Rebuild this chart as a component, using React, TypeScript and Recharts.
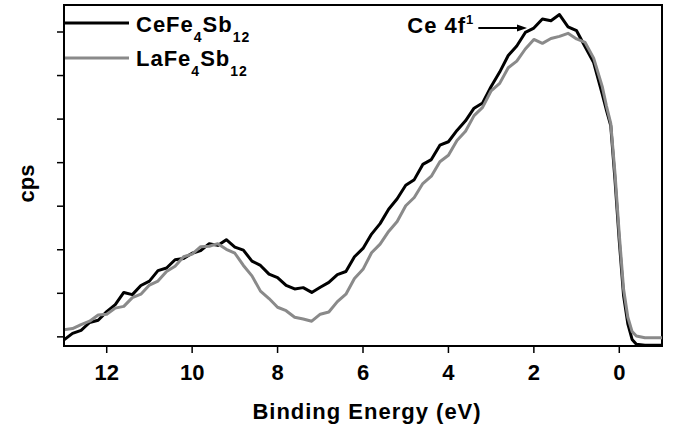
import React from "react";
import { LineChart, Line, XAxis, YAxis, ReferenceArea, ReferenceLine, Legend } from "recharts";

// binding energy (eV), high to low
const energies = [
  13, 12.8, 12.6, 12.4, 12.2, 12, 11.8, 11.6, 11.4, 11.2,
  11, 10.8, 10.6, 10.4, 10.2, 10, 9.8, 9.6, 9.4, 9.2,
  9, 8.8, 8.6, 8.4, 8.2, 8, 7.8, 7.6, 7.4, 7.2,
  7, 6.8, 6.6, 6.4, 6.2, 6, 5.8, 5.6, 5.4, 5.2,
  5, 4.8, 4.6, 4.4, 4.2, 4, 3.8, 3.6, 3.4, 3.2,
  3, 2.8, 2.6, 2.4, 2.2, 2, 1.8, 1.6, 1.4, 1.2,
  1, 0.8, 0.6, 0.4, 0.3, 0.2, 0.1, 0, -0.1, -0.2,
  -0.3, -0.4, -0.6, -0.8, -1,
];

const ceFe4Sb12 = [
  -0.07, 0.08, 0.15, 0.33, 0.38, 0.58, 0.74, 1.02, 0.97, 1.18,
  1.28, 1.52, 1.58, 1.77, 1.8, 1.92, 1.98, 2.14, 2.1, 2.23,
  2.06, 1.99, 1.74, 1.64, 1.44, 1.36, 1.18, 1.1, 1.13, 1.02,
  1.14, 1.25, 1.43, 1.5, 1.84, 2.03, 2.36, 2.6, 2.93, 3.17,
  3.48, 3.61, 3.96, 4.07, 4.4, 4.48, 4.74, 4.96, 5.25, 5.37,
  5.75, 6.08, 6.46, 6.68, 6.99, 7.09, 7.3, 7.26, 7.4, 7.12,
  7.03, 6.66, 6.3, 5.58, 5.2, 4.85, 3.6, 2.2, 0.95, 0.3,
  -0.06, -0.17, -0.19, -0.19, -0.19,
];

const laFe4Sb12 = [
  0.16, 0.19, 0.28, 0.36, 0.5, 0.52, 0.66, 0.7, 0.9, 0.98,
  1.19, 1.28, 1.5, 1.62, 1.84, 1.9, 2.07, 2.08, 2.14, 2.01,
  1.92, 1.64, 1.4, 1.05, 0.88, 0.68, 0.6, 0.45, 0.41, 0.36,
  0.52, 0.57, 0.81, 0.98, 1.34, 1.55, 1.93, 2.13, 2.42, 2.65,
  3.01, 3.2, 3.52, 3.69, 4.02, 4.17, 4.51, 4.72, 5.08, 5.27,
  5.65, 5.82, 6.18, 6.33, 6.61, 6.83, 6.74, 6.85, 6.9, 6.97,
  6.84, 6.76, 6.4, 5.75, 5.3, 4.9, 3.75, 2.35, 1.1, 0.45,
  0.12, 0.02, -0.02, -0.02, -0.02,
];

const xTicks = [12, 10, 8, 6, 4, 2, 0];
const yTicks = [0, 1, 2, 3, 4, 5, 6, 7];

const X_MIN = -1;
const X_MAX = 13;
const Y_MIN = -0.21;
const Y_MAX = 7.62;

// Ce 4f1 arrow: from 3.3 eV to 2.16 eV at height 7.09
const arrowFrom = { x: 3.3, y: 7.09 };
const arrowTo = { x: 2.16, y: 7.09 };

const data = energies.map((e, i) => ({ e, ce: ceFe4Sb12[i], la: laFe4Sb12[i] }));

const FONT = "'Liberation Sans', Arial, Helvetica, sans-serif";
const GRAY = "#8a8a8a";

const LegendBox = () => (
  <svg width={260} height={80} style={{ display: "block", overflow: "visible" }}>
    <line x1={1} y1={23} x2={65} y2={23} stroke="#000" strokeWidth={3} />
    <text x={72} y={32} fontFamily={FONT} fontWeight="bold" fontSize={22} letterSpacing={1} fill="#000">
      CeFe<tspan fontSize={14} dy={10}>4</tspan>
      <tspan dy={-10}>Sb</tspan>
      <tspan fontSize={14} dy={10}>12</tspan>
    </text>
    <line x1={1} y1={58} x2={65} y2={58} stroke={GRAY} strokeWidth={3} />
    <text x={72} y={66} fontFamily={FONT} fontWeight="bold" fontSize={22} letterSpacing={1} fill="#000">
      LaFe<tspan fontSize={14} dy={10}>4</tspan>
      <tspan dy={-10}>Sb</tspan>
      <tspan fontSize={14} dy={10}>12</tspan>
    </text>
  </svg>
);

const ArrowShape = (props: any) => {
  const { x1, y1, x2, y2 } = props;
  return (
    <g>
      <line x1={x1} y1={y1} x2={x2 - 8} y2={y2} stroke="#000" strokeWidth={2} />
      <polygon points={`${x2},${y2} ${x2 - 10},${y2 - 3.5} ${x2 - 10},${y2 + 3.5}`} fill="#000" />
      <text x={x1 - 4} y={y1 + 5} textAnchor="end" fontFamily={FONT} fontWeight="bold" fontSize={22} letterSpacing={1} fill="#000">
        Ce 4f<tspan fontSize={13} dy={-9}>1</tspan>
      </text>
    </g>
  );
};

export default function App() {
  return (
    <div style={{ position: "absolute", left: 0, top: 0, width: 677, height: 434, background: "#fff", fontFamily: FONT }}>
      <LineChart width={677} height={434} data={data} margin={{ top: 5, right: 15, bottom: 0, left: 0 }}>
        <XAxis
          dataKey="e"
          type="number"
          domain={[X_MIN, X_MAX]}
          reversed
          allowDataOverflow
          ticks={xTicks}
          height={88}
          tickSize={7}
          tickMargin={11}
          axisLine={{ stroke: "#000", strokeWidth: 2 }}
          tickLine={{ stroke: "#000", strokeWidth: 1.5 }}
          tick={{ fill: "#000", fontSize: 22, fontWeight: "bold", fontFamily: FONT }}
          label={{
            content: ({ viewBox }: any) => (
              <text
                x={viewBox.x + viewBox.width / 2 + 4}
                y={viewBox.y + 73}
                textAnchor="middle"
                fontFamily={FONT}
                fontWeight="bold"
                fontSize={22}
                letterSpacing={1}
                fill="#000"
              >
                Binding Energy (eV)
              </text>
            ),
          }}
        />
        <YAxis
          type="number"
          domain={[Y_MIN, Y_MAX]}
          allowDataOverflow
          ticks={yTicks}
          width={64}
          tickSize={7}
          tickFormatter={() => ""}
          axisLine={{ stroke: "#000", strokeWidth: 2 }}
          tickLine={{ stroke: "#000", strokeWidth: 1.5 }}
          label={{
            content: ({ viewBox }: any) => {
              const cx = viewBox.x + 26;
              const cy = viewBox.y + viewBox.height / 2 + 8;
              return (
                <text
                  x={cx}
                  y={cy}
                  transform={`rotate(-90 ${cx} ${cy})`}
                  textAnchor="middle"
                  dominantBaseline="central"
                  fontFamily={FONT}
                  fontWeight="bold"
                  fontSize={22}
                  fill="#000"
                >
                  cps
                </text>
              );
            },
          }}
        />
        <ReferenceArea
          x1={X_MAX}
          x2={X_MIN}
          y1={Y_MIN}
          y2={Y_MAX}
          fill="none"
          stroke="#000"
          strokeWidth={2}
          ifOverflow="visible"
        />
        <Line dataKey="ce" name="CeFe4Sb12" type="linear" stroke="#000" strokeWidth={3} dot={false} strokeLinejoin="round" isAnimationActive={false} />
        <Line dataKey="la" name="LaFe4Sb12" type="linear" stroke={GRAY} strokeWidth={3} dot={false} strokeLinejoin="round" isAnimationActive={false} />
        <ReferenceLine segment={[arrowFrom, arrowTo]} ifOverflow="visible" shape={ArrowShape} />
        <Legend
          layout="horizontal"
          verticalAlign="middle"
          align="center"
          content={() => <LegendBox />}
          wrapperStyle={{ position: "absolute", top: 0, left: 64, width: 260, height: 80, margin: 0 }}
        />
      </LineChart>
    </div>
  );
}
